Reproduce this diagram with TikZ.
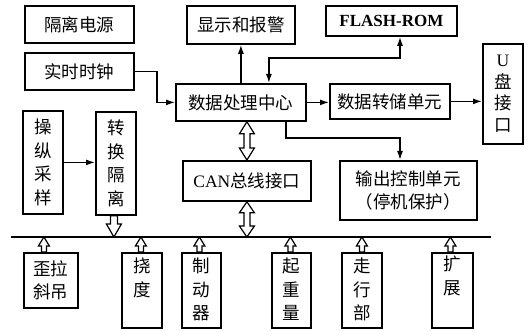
\documentclass[tikz,border=0pt]{standalone}
\usepackage{fontspec}
\setmainfont{Liberation Serif}
\newfontfamily\cjk{Noto Sans CJK SC}
\usetikzlibrary{calc,arrows.meta}
% hollow single arrow: tail, tip, half shaft, half head, head length
\newcommand\hsingle[5]{%
\path[harrow] let \p1=(#1), \p2=(#2), \n1={sign(\y2-\y1)} in
 (\x1-#3,\y1) -- (\x1-#3,{\y2-(\n1*#5)}) -- (\x1-#4,{\y2-(\n1*#5)}) -- (\x1,\y2)
 -- (\x1+#4,{\y2-(\n1*#5)}) -- (\x1+#3,{\y2-(\n1*#5)}) -- (\x1+#3,\y1) -- cycle;}
% hollow double arrow: end a, end b, half shaft, half head, head length
\newcommand\hdouble[5]{%
\path[harrow] let \p1=(#1), \p2=(#2), \n1={sign(\y2-\y1)} in
 (\x1,\y1) -- (\x1+#4,{\y1+(\n1*#5)}) -- (\x1+#3,{\y1+(\n1*#5)})
 -- (\x1+#3,{\y2-(\n1*#5)}) -- (\x1+#4,{\y2-(\n1*#5)}) -- (\x1,\y2)
 -- (\x1-#4,{\y2-(\n1*#5)}) -- (\x1-#3,{\y2-(\n1*#5)})
 -- (\x1-#3,{\y1+(\n1*#5)}) -- (\x1-#4,{\y1+(\n1*#5)}) -- cycle;}
\tikzset{
 box/.style={draw, line width=1.8pt, inner sep=0pt, anchor=north west, align=center,
   font=\cjk\fontsize{17.5}{23.5}\selectfont},
 txt/.style={inner sep=0pt, align=center, font=\cjk\fontsize{17.5}{23.5}\selectfont},
 arr/.style={line width=1.4pt, -{Latex[length=9pt,width=6pt]}},
 darr/.style={line width=1.4pt, {Latex[length=9pt,width=6pt]}-{Latex[length=9pt,width=6pt]}},
 harrow/.style={draw, line width=1.2pt, fill=white, line join=miter},
}
\begin{document}
\begin{tikzpicture}[x=1pt,y=-1pt]
\useasboundingbox (0,0) rectangle (528,331);
% top row
\node[box, minimum width=109, minimum height=37] (pwr) at (24,5) {隔离电源};
\node[box, minimum width=109, minimum height=37] (clock) at (24,52) {实时时钟};
\node[box, minimum width=108, minimum height=38] (disp) at (186,5) {显示和报警};
\node[box, minimum width=131, minimum height=30, font=\rmfamily\bfseries\fontsize{17}{20}\selectfont] (flash) at (325,5) {FLASH-ROM};
\node[box, minimum width=130, minimum height=37] (cpu) at (175,83) {数据处理中心};
\node[box, minimum width=120, minimum height=35] (store) at (329,83) {数据转储单元};
\node[box, minimum width=40, minimum height=100, font=\cjk\fontsize{17.5}{21.5}\selectfont] (usb) at (482,43) {{\rmfamily U}\\盘\\接\\口};
\node[box, minimum width=128, minimum height=40] (can) at (182,160) {{\rmfamily CAN}总线接口};
\node[box, minimum width=137, minimum height=59] (out) at (339,160) {输出控制单元\\（停机保护）};
\node[box, minimum width=40, minimum height=103] (op) at (22,110) {操\\纵\\采\\样};
\node[box, minimum width=40, minimum height=103] (conv) at (95,111) {转\\换\\隔\\离};
% bottom row
\node[box, minimum width=54, minimum height=55] (sk) at (23,252) {歪拉\\斜吊};
\node[box, minimum width=40, minimum height=75] (nd) at (121,252) {};
\node[box, minimum width=39, minimum height=75] (zd) at (181,252) {};
\node[box, minimum width=39, minimum height=75] (qz) at (271,252) {};
\node[box, minimum width=40, minimum height=75] (zx) at (341,252) {};
\node[box, minimum width=41, minimum height=75] (kz) at (431,252) {};
\node[txt, anchor=north] (ndt) at ($(nd.north)+(0,6)$) {挠\\度};
\node[txt, anchor=north] (zdt) at ($(zd.north)+(0,6)$) {制\\动\\器};
\node[txt, anchor=north] (qzt) at ($(qz.north)+(0,6)$) {起\\重\\量};
\node[txt, anchor=north] (zxt) at ($(zx.north)+(0,6)$) {走\\行\\部};
\node[txt, anchor=north] (kzt) at ($(kz.north)+(0,4)$) {扩\\展};
% bus
\coordinate (busL) at (11,237);
\coordinate (busR) at (491,237);
\draw[line width=1.6pt] (busL) -- (busR);
% connectors
\draw[arr] (clock.east) -- ++(22,0) |- (cpu.west);
\draw[arr] (cpu.north) -- (disp.south);
\coordinate (fk) at (400,58);
\draw[darr] ($(cpu.north)+(28,0)$) |- (fk) -- (fk |- flash.south);
\draw[arr] (cpu.east) -- (cpu.east -| store.west);
\draw[arr] (store.east) -- (store.east -| usb.west);
\coordinate (ok) at (400,138);
\draw[arr] ($(cpu.south)+(45,0)$) |- (ok) -- (ok |- out.north);
\draw[arr] (op.east) -- (op.east -| conv.west);
% hollow arrows
\coordinate (c1) at ($(cpu.south)+(6,0)$);
\hdouble{c1}{c1 |- can.north}{3pt}{7.5pt}{12pt}
\coordinate (c2) at (c1 |- can.south);
\hdouble{c2}{c2 |- busL}{3pt}{7.5pt}{11pt}
\coordinate (t0) at ($(conv.south)+(-2,0)$);
\hsingle{t0}{t0 |- busL}{3.5pt}{7.5pt}{13pt}
\coordinate (t1) at ($(sk.north)+(-7,0)$);
\hsingle{t1}{t1 |- busL}{2.5pt}{5.5pt}{9pt}
\coordinate (t2) at ($(nd.north)+(-1,0)$);
\hsingle{t2}{t2 |- busL}{2.5pt}{5.5pt}{9pt}
\coordinate (t3) at ($(zd.north)+(-2,0)$);
\hsingle{t3}{t3 |- busL}{2.5pt}{5.5pt}{9pt}
\coordinate (t4) at ($(qz.north)+(-1,0)$);
\hsingle{t4}{t4 |- busL}{2.5pt}{5.5pt}{9pt}
\coordinate (t5) at (zx.north);
\hsingle{t5}{t5 |- busL}{2.5pt}{5.5pt}{9pt}
\coordinate (t6) at ($(kz.north)+(-2,0)$);
\hsingle{t6}{t6 |- busL}{2.5pt}{5.5pt}{9pt}
\end{tikzpicture}
\end{document}
